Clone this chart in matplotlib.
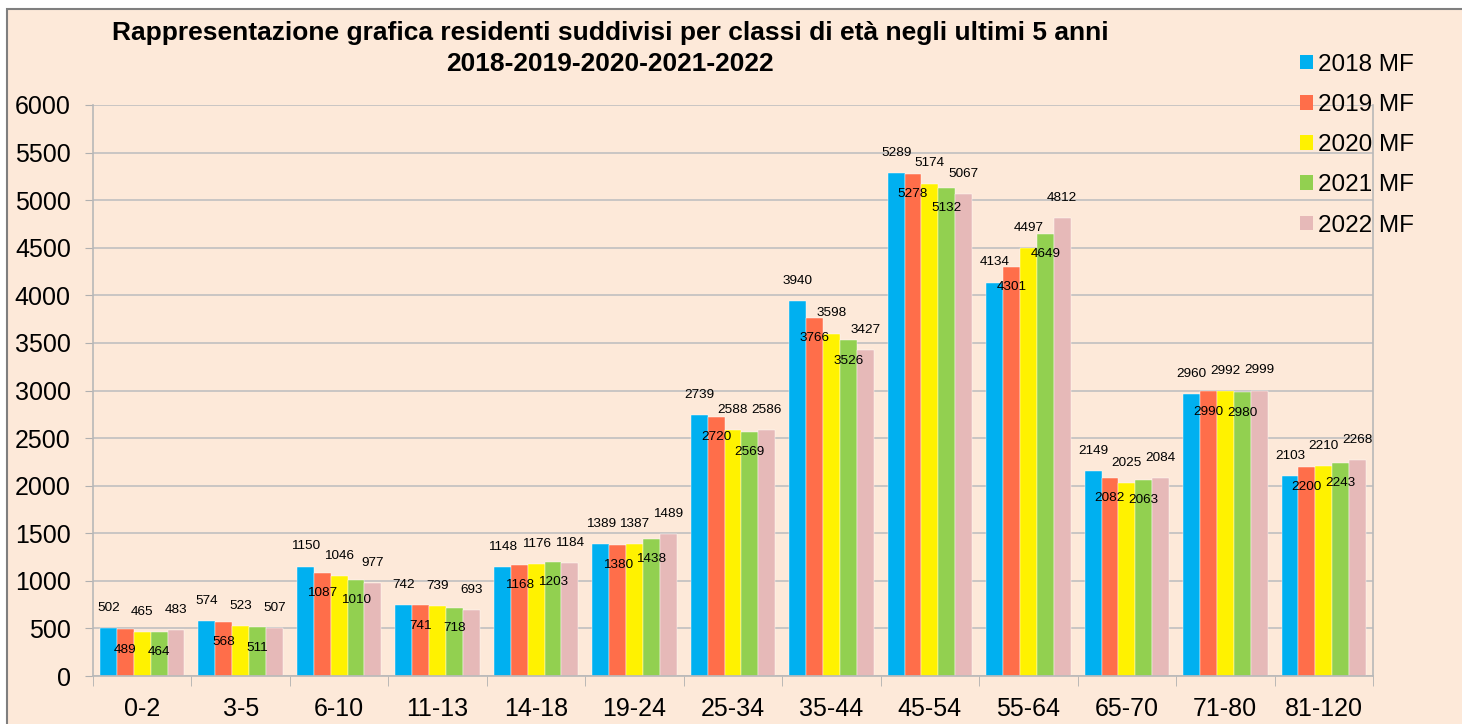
import numpy as np
import matplotlib
matplotlib.use("Agg")
from matplotlib import pyplot as plt
from matplotlib.patches import Rectangle, Patch

plt.rcParams["font.family"] = ["Liberation Sans", "DejaVu Sans"]

categories = ["0-2", "3-5", "6-10", "11-13", "14-18", "19-24", "25-34",
              "35-44", "45-54", "55-64", "65-70", "71-80", "81-120"]
series_names = ["2018 MF", "2019 MF", "2020 MF", "2021 MF", "2022 MF"]
v2018 = [502, 574, 1150, 742, 1148, 1389, 2739, 3940, 5289, 4134, 2149, 2960, 2103]
v2019 = [489, 568, 1087, 741, 1168, 1380, 2720, 3766, 5278, 4301, 2082, 2990, 2200]
v2020 = [465, 523, 1046, 739, 1176, 1387, 2588, 3598, 5174, 4497, 2025, 2992, 2210]
v2021 = [464, 511, 1010, 718, 1203, 1438, 2569, 3526, 5132, 4649, 2063, 2980, 2243]
v2022 = [483, 507, 977, 693, 1184, 1489, 2586, 3427, 5067, 4812, 2084, 2999, 2268]
values = [v2018, v2019, v2020, v2021, v2022]
colors = ["#00B0F0", "#FF6E4A", "#FFF200", "#92D050", "#E6B9B8"]

bg = "#FDE9D9"
fig = plt.figure(figsize=(14.62, 7.24), dpi=100, facecolor="white")
# outer chart frame
fig.patches.append(Rectangle((7 / 1462, -0.1), 1.2, 1.1 - 9 / 724,
                             transform=fig.transFigure, facecolor=bg,
                             edgecolor="#7f7f7f", linewidth=1.5, zorder=-1))

ax = fig.add_axes([93 / 1462, 48 / 724, 1280 / 1462, 571 / 724])
ax.set_facecolor(bg)

x = np.arange(len(categories))
w = 0.1715
for i, (vals, c, name) in enumerate(zip(values, colors, series_names)):
    pos = x + (i - 2) * w
    ax.bar(pos, vals, width=w, color=c, label=name, zorder=2,
           edgecolor="white", linewidth=0.3)
    # labels alternate above / inside the bars
    off = 14.5 if i % 2 == 0 else -14.5
    for p, v in zip(pos, vals):
        ax.annotate(str(v), (p, v), xytext=(0, off), textcoords="offset points",
                    ha="center", va="center", fontsize=9.7, zorder=3)

ax.set_ylim(0, 6000)
ax.set_xlim(-0.5, len(categories) - 0.5)
ax.set_yticks(range(0, 6001, 500))
ax.tick_params(axis="y", labelsize=18, length=6, color="#b0b0b0", pad=10)
ax.set_xticks(x)
ax.set_xticklabels(categories)
ax.tick_params(axis="x", which="major", length=0, labelsize=18, pad=15)
ax.set_xticks(np.arange(-0.5, len(categories)), minor=True)
ax.tick_params(axis="x", which="minor", length=7, color="#b0b0b0")
ax.grid(axis="y", color="#c0c0c0", linewidth=1.2, zorder=0)
ax.set_axisbelow(True)
for side in ["left", "bottom", "right"]:
    ax.spines[side].set_color("#b8b8b8")
    ax.spines[side].set_linewidth(1.2)
ax.spines["top"].set_visible(False)

fig.text(610 / 1462, 1 - 33 / 724,
         "Rappresentazione grafica residenti suddivisi per classi di età negli ultimi 5 anni",
         ha="center", va="center", fontsize=19, fontweight="bold")
fig.text(610 / 1462, 1 - 64 / 724, "2018-2019-2020-2021-2022",
         ha="center", va="center", fontsize=19, fontweight="bold")

handles = [Patch(facecolor=c, edgecolor="none") for c in colors]
fig.legend(handles, series_names, loc="upper left",
           bbox_to_anchor=(1290 / 1462, 1 - 44 / 724), frameon=False,
           fontsize=17.5, handlelength=0.55, handleheight=0.55,
           handletextpad=0.2, labelspacing=0.75, borderaxespad=0)

fig.savefig("out.png", dpi=100, facecolor=fig.get_facecolor())
